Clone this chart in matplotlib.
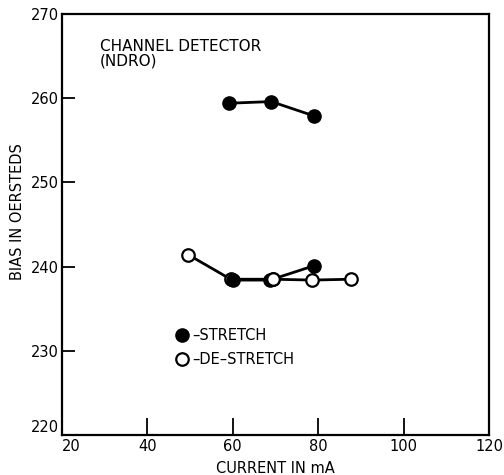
import matplotlib
matplotlib.use("Agg")
import matplotlib.pyplot as plt
from matplotlib.lines import Line2D

plt.rcParams['font.family'] = ['DejaVu Sans']

# Data
stretch_hi_x = [59, 69, 79]
stretch_hi_y = [259.4, 259.6, 257.9]
stretch_lo_x = [60, 68.7, 79]
stretch_lo_y = [238.4, 238.4, 240.1]
destretch_x = [49.6, 59.5, 69.5, 78.6, 87.6]
destretch_y = [241.4, 238.5, 238.5, 238.4, 238.5]

xticks = [20, 40, 60, 80, 100, 120]
yticks = [220, 230, 240, 250, 260, 270]

fig = plt.figure(figsize=(5.04, 4.75), dpi=100)
ax = fig.add_axes([62/504, 1-435/475, (489-62)/504, (435-14)/475])

lw = 2.0
ax.plot(destretch_x, destretch_y, color='black', lw=lw, marker='o', ms=9,
        mfc='white', mec='black', mew=1.6, zorder=2)
ax.plot(stretch_lo_x, stretch_lo_y, color='black', lw=lw, marker='o', ms=9.5,
        mfc='black', mec='black', zorder=3)
ax.plot(stretch_hi_x, stretch_hi_y, color='black', lw=lw, marker='o', ms=9.5,
        mfc='black', mec='black', zorder=3)
# open marker at 69.5 drawn on top (partially covers filled one)
ax.plot(destretch_x[2:3], destretch_y[2:3], ls='none', marker='o', ms=9,
        mfc='white', mec='black', mew=1.6, zorder=4)

ax.set_xlim(20, 120)
ax.set_ylim(220, 270)
ax.set_xticks(xticks)
ax.set_yticks(yticks)
ax.tick_params(direction='in', length=9, width=1.3, labelsize=10.5, pad=2,
               top=False, right=False)
ax.tick_params(axis='x', length=12, pad=3)
xt = ax.xaxis.get_major_ticks()
yt = ax.yaxis.get_major_ticks()
xt[0].label1.set_horizontalalignment('left')
yt[0].label1.set_verticalalignment('bottom')
for s in ax.spines.values():
    s.set_linewidth(1.6)

ax.set_xlabel('CURRENT IN mA', fontsize=10.5, labelpad=5)
ax.set_ylabel('BIAS IN OERSTEDS', fontsize=10.5)
ax.yaxis.set_label_coords(-0.087, 0.53)

ax.text(0.088, 0.94, 'CHANNEL DETECTOR\n(NDRO)', transform=ax.transAxes,
        fontsize=11, va='top', ha='left', linespacing=0.95)

handles = [
    Line2D([], [], ls='none', marker='o', ms=9.5, mfc='black', mec='black'),
    Line2D([], [], ls='none', marker='o', ms=9, mfc='white', mec='black', mew=1.6),
]
leg = ax.legend(handles, ['\u2013STRETCH', '\u2013DE\u2013STRETCH'],
                loc='upper left', bbox_to_anchor=(0.253, 0.268), frameon=False,
                handlelength=0.8, handletextpad=0.3, labelspacing=0.65,
                fontsize=10.5, borderaxespad=0)

fig.savefig('out.png', dpi=100)
